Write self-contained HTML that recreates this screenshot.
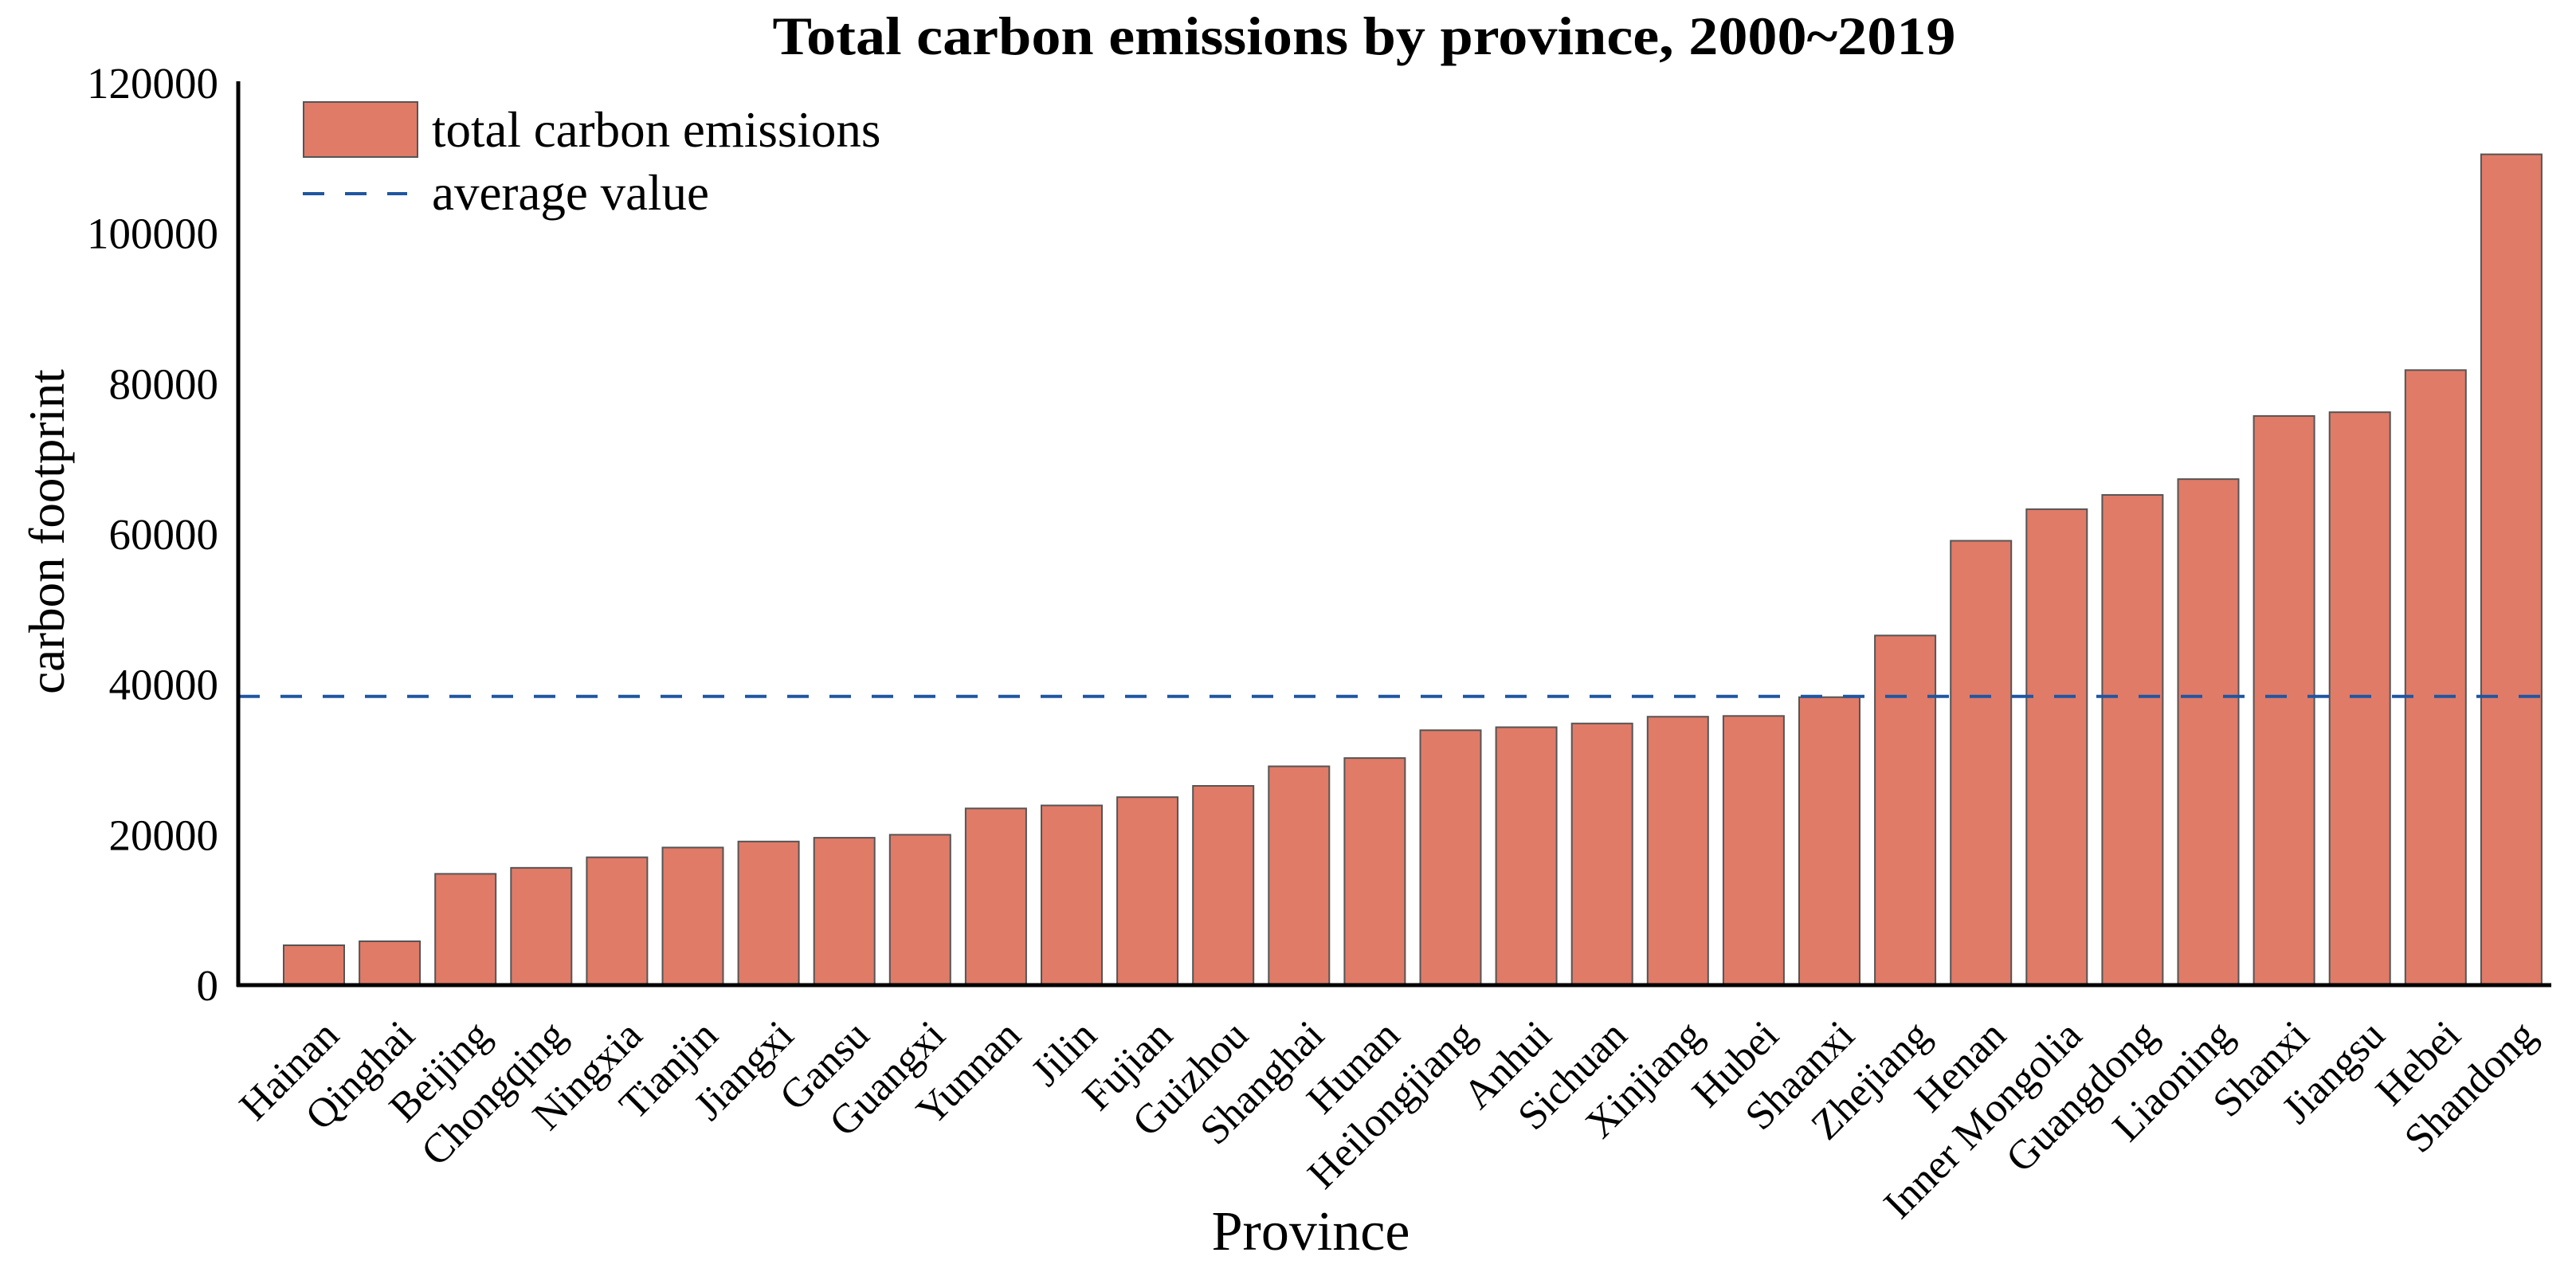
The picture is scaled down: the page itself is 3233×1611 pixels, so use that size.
<!DOCTYPE html>
<html><head><meta charset="utf-8"><style>html,body{margin:0;padding:0;background:#fff}svg{display:block}</style></head>
<body>
<svg id="chart" xmlns="http://www.w3.org/2000/svg" width="3233" height="1611" viewBox="0 0 3233 1611" font-family="'Liberation Serif', serif">
<text x="1712" y="68" text-anchor="middle" font-size="68" font-weight="bold" textLength="1485" lengthAdjust="spacingAndGlyphs">Total carbon emissions by province, 2000~2019</text>
<text transform="translate(80,667) rotate(-90)" text-anchor="middle" font-size="63">carbon footprint</text>
<text x="1645" y="1568" text-anchor="middle" font-size="70">Province</text>
<g id="yticks"></g>
<g id="bars"></g>
<g id="xlabels"></g>
<line id="avg" stroke="#1f56a0" stroke-width="4" stroke-dasharray="27,26"/>
<line x1="299" y1="102" x2="299" y2="1238" stroke="#000" stroke-width="5"/>
<line x1="297" y1="1236" x2="3202" y2="1236" stroke="#000" stroke-width="5"/>
<g>
<rect x="381" y="128" width="143" height="69" fill="#e07b68" stroke="#555" stroke-width="2"/>
<text x="542" y="184" font-size="63">total carbon emissions</text>
<line x1="380" y1="243" x2="511" y2="243" stroke="#1f56a0" stroke-width="4" stroke-dasharray="27,26"/>
<text x="542" y="263" font-size="63">average value</text>
</g>
</svg>
<script>
const categories = ["Hainan","Qinghai","Beijing","Chongqing","Ningxia","Tianjin","Jiangxi","Gansu","Guangxi","Yunnan","Jilin","Fujian","Guizhou","Shanghai","Hunan","Heilongjiang","Anhui","Sichuan","Xinjiang","Hubei","Shaanxi","Zhejiang","Henan","Inner Mongolia","Guangdong","Liaoning","Shanxi","Jiangsu","Hebei","Shandong"];
const values = [5300,5830,14800,15600,17000,18300,19100,19600,20000,23500,23900,25000,26500,29100,30200,33900,34300,34800,35700,35800,38300,46500,59100,63300,65200,67300,75700,76200,81800,110500];
const averageValue = 38400;
const yTicks = [0,20000,40000,60000,80000,100000,120000];

const NS = "http://www.w3.org/2000/svg";
const y0 = 1236, y1 = 104, yMax = 120000;
function yScale(v){ return y0 - (v / yMax) * (y0 - y1); }
const xFirst = 394, step = 95.1, barW = 76;
function xScale(i){ return xFirst + i * step; }
function mk(tag, attrs, parent){ const e = document.createElementNS(NS, tag); for (const k in attrs) e.setAttribute(k, attrs[k]); parent.appendChild(e); return e; }

const yt = document.getElementById('yticks');
yTicks.forEach(t => {
  const tx = mk('text', {x: 274, y: yScale(t) + 19, 'text-anchor': 'end', 'font-size': 55}, yt);
  
  
  tx.textContent = String(t);
});

const bars = document.getElementById('bars');
const xl = document.getElementById('xlabels');
categories.forEach((c, i) => {
  const cx = xScale(i);
  const r = mk('rect', {x: cx - barW/2, y: yScale(values[i]), width: barW, height: y0 - yScale(values[i]), fill: '#e07b68', stroke: '#555', 'stroke-width': 2}, bars);
  
  
  const lx = cx + 34, ly = 1302;
  const t = mk('text', {x: lx, y: ly, 'text-anchor': 'end', 'font-size': 52, transform: 'rotate(-45 ' + lx + ' ' + ly + ')'}, xl);
  
  
  t.textContent = c;
});

const avg = document.getElementById('avg');
avg.setAttribute('x1', 299); avg.setAttribute('x2', 3205);
avg.setAttribute('y1', yScale(averageValue)); avg.setAttribute('y2', yScale(averageValue));
</script>
</body></html>
